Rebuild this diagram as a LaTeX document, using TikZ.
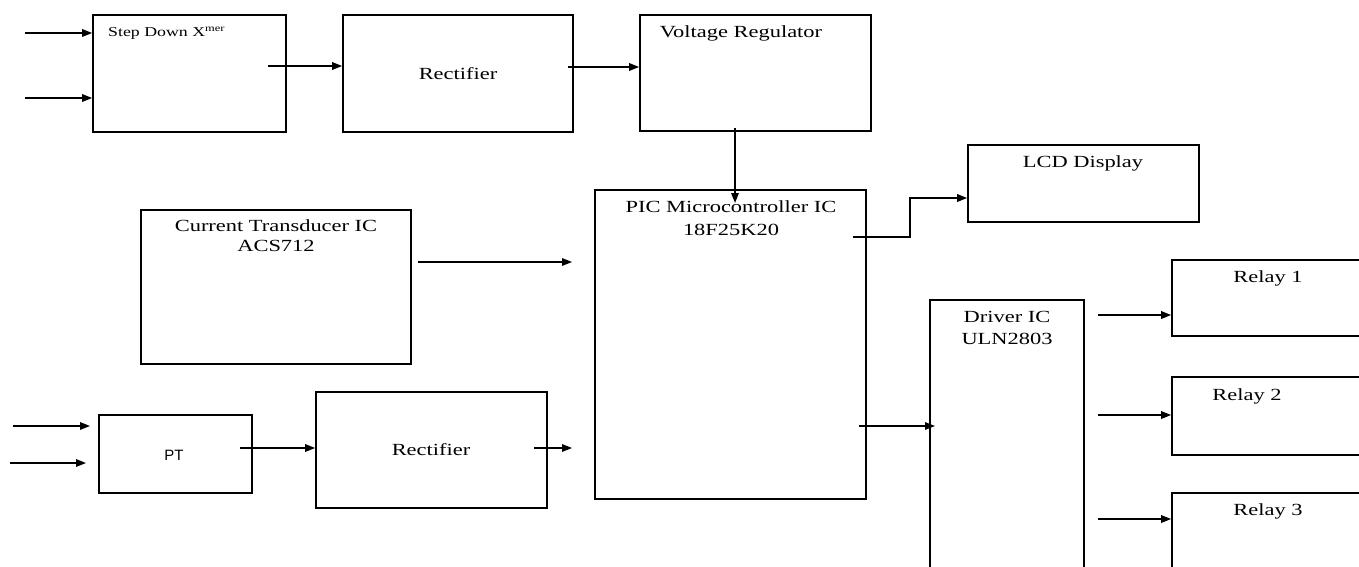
\documentclass[tikz,border=0pt]{standalone}
\usepackage{fontspec}
\setmainfont{Liberation Serif}[FakeStretch=1.32]
\newfontfamily\ptfont{Liberation Sans}
\usetikzlibrary{arrows.meta,fit}
\begin{document}
\begin{tikzpicture}[x=1pt,y=-1pt,
  box/.style={draw, line width=1.6pt, inner sep=0pt},
  lbl/.style={font=\fontsize{17}{20}\selectfont, inner sep=0pt, anchor=base},
  arr/.style={line width=1.5pt, -{Triangle[length=10pt,width=7.5pt]}},
  ]
\fill[white] (0,0) rectangle (1359,567);
\useasboundingbox (0,0) rectangle (1359,567);

% boxes
\node[box, fit={(93,15) (286,132)}] (sd) {};
\node[box, fit={(343,15) (573,132)}] (rec1) {};
\node[box, fit={(640,15) (871,131)}] (vr) {};
\node[box, fit={(595,190) (866,499)}] (pic) {};
\node[box, fit={(968,145) (1199,222)}] (lcd) {};
\node[box, fit={(141,210) (411,364)}] (ct) {};
\node[box, fit={(930,300) (1084,600)}] (drv) {};
\node[box, fit={(1172,260) (1400,336)}] (r1) {};
\node[box, fit={(1172,377) (1400,455)}] (r2) {};
\node[box, fit={(1172,493) (1400,600)}] (r3) {};
\node[box, fit={(99,415) (252,493)}] (pt) {};
\node[box, fit={(316,392) (547,508)}] (rec2) {};

% texts
\node[lbl, anchor=base west, font=\fontsize{13.5}{16}\selectfont] (sdt) at (108,37) {Step Down X\textsuperscript{mer}};
\node[lbl] (rec1t) at (458,80) {Rectifier};
\node[lbl] (vrt) at (741,38) {Voltage Regulator};
\node[lbl] (pict1) at (731,212) {PIC Microcontroller IC};
\node[lbl] (pict2) at (731,235) {18F25K20};
\node[lbl] (lcdt) at (1083,167) {LCD Display};
\node[lbl] (ctt1) at (276,231) {Current Transducer IC};
\node[lbl] (ctt2) at (276,251) {ACS712};
\node[lbl] (drvt1) at (1007,322) {Driver IC};
\node[lbl] (drvt2) at (1007,344) {ULN2803};
\node[lbl] (r1t) at (1268,282) {Relay 1};
\node[lbl] (r2t) at (1247,400) {Relay 2};
\node[lbl] (r3t) at (1268,515) {Relay 3};
\node[lbl, font=\ptfont\fontsize{15}{18}\selectfont] (ptt) at (174,460) {PT};
\node[lbl] (rec2t) at (431,455) {Rectifier};

% connector end points
\coordinate (in1) at (25,33);
\coordinate (in2) at (25,98);
\coordinate (sdout) at (268,66);
\coordinate (rec1out) at (568,67);
\coordinate (vrout) at (735,128);
\coordinate (picin) at (735,203);
\coordinate (picout1) at (853,237);
\coordinate (bend) at (910,237);
\coordinate (lcdlvl) at (910,198);
\coordinate (ctout) at (418,262);
\coordinate (picin2) at (572,262);
\coordinate (picout2) at (859,426);
\coordinate (drvin) at (935,426);
\coordinate (dout1) at (1098,315);
\coordinate (dout2) at (1098,415);
\coordinate (dout3) at (1098,519);
\coordinate (pin1a) at (13,426);
\coordinate (pin1b) at (90,426);
\coordinate (pin2a) at (10,463);
\coordinate (pin2b) at (86,463);
\coordinate (ptout) at (240,448);
\coordinate (rec2out) at (534,448);
\coordinate (picin3) at (572,448);

% connectors
\draw[arr] (in1) -- (in1 -| sd.west);
\draw[arr] (in2) -- (in2 -| sd.west);
\draw[arr] (sdout) -- (sdout -| rec1.west);
\draw[arr] (rec1out) -- (rec1out -| vr.west);
\draw[arr] (vrout) -- (picin);
\draw[arr] (picout1) -- (bend) -- (lcdlvl) -- (lcdlvl -| lcd.west);
\draw[arr] (ctout) -- (picin2);
\draw[arr] (picout2) -- (drvin);
\draw[arr] (dout1) -- (dout1 -| r1.west);
\draw[arr] (dout2) -- (dout2 -| r2.west);
\draw[arr] (dout3) -- (dout3 -| r3.west);
\draw[arr] (pin1a) -- (pin1b);
\draw[arr] (pin2a) -- (pin2b);
\draw[arr] (ptout) -- (ptout -| rec2.west);
\draw[arr] (rec2out) -- (picin3);
\end{tikzpicture}
\end{document}
